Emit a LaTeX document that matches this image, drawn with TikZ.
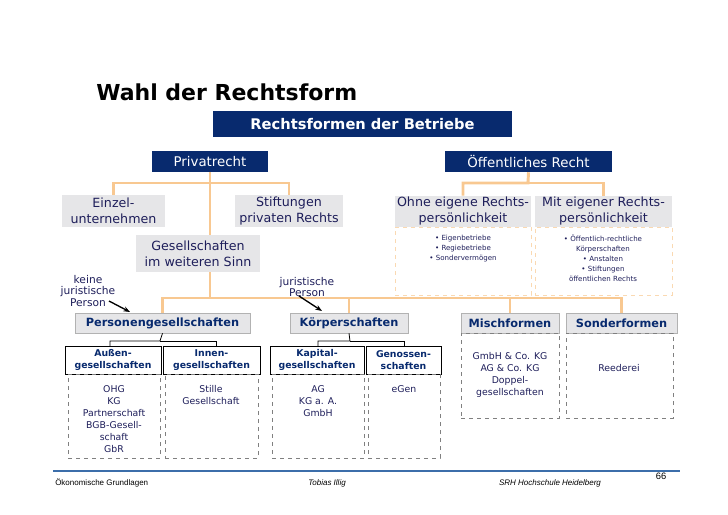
\documentclass[tikz,border=0pt]{standalone}
\usepackage{fontspec}
\setmainfont{DejaVu Sans}
\newfontfamily\footfont{Liberation Sans}
\usetikzlibrary{arrows.meta}
\definecolor{navy}{RGB}{8,42,110}
\definecolor{txt}{RGB}{30,30,90}
\definecolor{gbox}{RGB}{230,230,232}
\definecolor{ora}{RGB}{248,200,145}
\definecolor{lineblue}{RGB}{60,110,170}
\newcommand{\bx}[7]{\node[#6, minimum width={(#4-#2)*0.75pt}, minimum height={(#5-#3)*0.75pt}] (#1) at ({(#2+#4)/2},{(#3+#5)/2}) {#7};}
\begin{document}
\begin{tikzpicture}[x=0.75pt,y=-0.75pt,
  every node/.style={inner sep=0pt, align=center},
  navybox/.style={fill=navy, text=white, font=\fontsize{10}{12}\selectfont},
  graybox/.style={fill=gbox, text=txt, font=\fontsize{9.5}{12}\selectfont},
  boldgray/.style={fill=gbox, draw=gray!60, text=navy, font=\bfseries\fontsize{8.5}{10}\selectfont},
  blackbox/.style={fill=white, draw=black, text=navy, font=\bfseries\fontsize{7}{9}\selectfont},
  dbody/.style={draw=gray, dashed, text=txt, font=\fontsize{7}{9}\selectfont},
  obody/.style={draw=ora!70, dashed, text=txt, font=\fontsize{5.3}{7.5}\selectfont},
  oline/.style={draw=ora, line width=2.2pt},
  bline/.style={draw=black, line width=0.6pt},
  lbl/.style={text=txt, font=\fontsize{8}{8.5}\selectfont}]
\useasboundingbox (0,0) rectangle (728,514);
\node[anchor=west, font=\bfseries\fontsize{16.5}{18}\selectfont] (title) at (96,92) {Wahl der Rechtsform};
\bx{rb}{213}{111}{512}{137}{navybox, font=\bfseries\fontsize{11}{12}\selectfont}{Rechtsformen der Betriebe}
\bx{priv}{152}{151}{268}{172}{navybox}{Privatrecht}
\bx{oeff}{445}{151}{612}{172}{navybox}{Öffentliches Recht}
% private branch
\bx{einz}{62}{195}{165}{227}{graybox}{Einzel-\\unternehmen}
\bx{stift}{235}{195}{343}{227}{graybox}{Stiftungen\\privaten Rechts}
\bx{ges}{136}{235}{260}{272}{graybox}{Gesellschaften\\im weiteren Sinn}
\draw[oline] (priv.south) -- (210,183) -| (einz.north);
\draw[oline] (210,183) -| (stift.north);
\draw[oline] (priv.south) -- (priv.south |- ges.north);
% public branch
\bx{ohne}{395}{196}{531}{227}{graybox}{Ohne eigene Rechts-\\persönlichkeit}
\bx{mit}{535}{196}{672}{227}{graybox}{Mit eigener Rechts-\\persönlichkeit}
\bx{ohneb}{395}{227}{531}{295}{obody}{}
\bx{mitb}{535}{227}{672}{295}{obody}{}
\node[obody, draw=none, anchor=north] (ohnet) at (463,235) {• Eigenbetriebe\\• Regiebetriebe\\• Sondervermögen};
\node[obody, draw=none, anchor=north] (mitt) at (603,235) {• Öffentlich-rechtliche\\Körperschaften\\• Anstalten\\• Stiftungen\\öffentlichen Rechts};
\draw[oline] (oeff.south) -- (528,183) -| (ohne.north);
\draw[oline] (528,183) -| (mit.north);
% level 3
\bx{pers}{75}{313}{250}{333}{boldgray}{Personengesellschaften}
\bx{koer}{290}{313}{408}{333}{boldgray}{Körperschaften}
\bx{misch}{461}{313}{559}{333}{boldgray}{Mischformen}
\bx{sond}{566}{313}{677}{333}{boldgray}{Sonderformen}
\draw[oline] (priv.south |- ges.south) -- (210,298) -| (pers.north);
\draw[oline] (210,298) -| (sond.north);
\draw[oline] (koer.north) -- (koer.north |- 0,298);
\draw[oline] (misch.north) -- (misch.north |- 0,298);
\node[lbl] (keine) at (88,291) {keine\\juristische\\Person};
\node[lbl] (jur) at (307,287) {juristische\\Person};
\coordinate (a1) at (130,312);
\coordinate (a2) at (322,311);
\draw[-{Stealth[length=5pt]}, line width=1pt] (109,301) -- (a1);
\draw[-{Stealth[length=5pt]}, line width=1pt] (299,296) -- (a2);
% level 4
\bx{aus}{65}{346}{161}{374}{blackbox}{Außen-\\gesellschaften}
\bx{inn}{163}{346}{260}{374}{blackbox}{Innen-\\gesellschaften}
\bx{kap}{270}{346}{364}{374}{blackbox}{Kapital-\\gesellschaften}
\bx{gen}{366}{346}{441}{374}{blackbox}{Genossen-\\schaften}
\draw[bline] (pers.south) -- (160,341) -| (110,346);
\draw[bline] (160,341) -| (216,346);
\draw[bline] (koer.south) -- (350,341) -| (318,346);
\draw[bline] (350,341) -| (404,346);
% bodies
\bx{ausb}{68}{374}{160}{458}{dbody}{}
\bx{innb}{165}{374}{258}{458}{dbody}{}
\bx{kapb}{272}{374}{364}{458}{dbody}{}
\bx{genb}{368}{374}{440}{458}{dbody}{}
\bx{mischb}{461}{333}{559}{418}{dbody}{}
\bx{sondb}{566}{333}{673}{418}{dbody}{}
\node[dbody, draw=none, anchor=north] (ausl) at (114,385) {OHG\\KG\\Partnerschaft\\BGB-Gesell-\\schaft\\GbR};
\node[dbody, draw=none, anchor=north] (innl) at (211,385) {Stille\\Gesellschaft};
\node[dbody, draw=none, anchor=north] (kapl) at (318,385) {AG\\KG a. A.\\GmbH};
\node[dbody, draw=none, anchor=north] (genl) at (404,385) {eGen};
\node[dbody, draw=none, anchor=north] (mischl) at (510,352) {GmbH \& Co. KG\\AG \& Co. KG\\Doppel-\\gesellschaften};
\node[dbody, draw=none, anchor=north] (sondl) at (619,364) {Reederei};
% footer
\draw[lineblue, line width=1.5pt] (53,471) -- (680,471);
\node[anchor=west, font=\footfont\fontsize{6}{7}\selectfont] (f1) at (55,483) {Ökonomische Grundlagen};
\node[font=\footfont\itshape\fontsize{6}{7}\selectfont] (f2) at (327,483) {Tobias Illig};
\node[font=\footfont\itshape\fontsize{6}{7}\selectfont] (f3) at (550,483) {SRH Hochschule Heidelberg};
\node[font=\footfont\fontsize{7}{8}\selectfont] (f4) at (661,476) {66};
\end{tikzpicture}
\end{document}
